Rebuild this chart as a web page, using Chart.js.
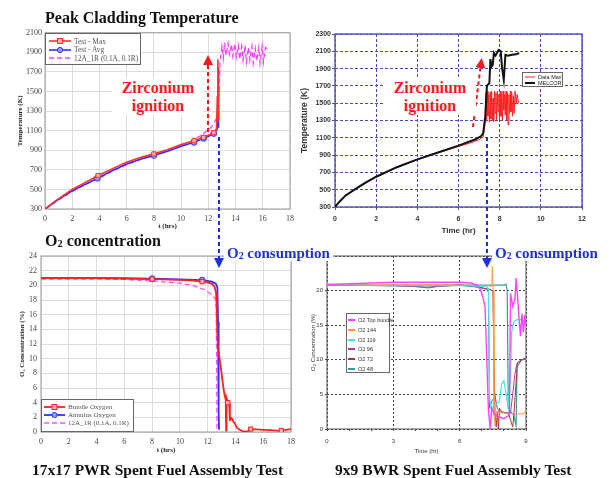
<!DOCTYPE html>
<html>
<head>
<meta charset="utf-8">
<script src="https://cdn.jsdelivr.net/npm/chart.js@4.4.0/dist/chart.umd.min.js"></script>
<style>
body{margin:0;background:#fff;}
#wrap{position:relative;width:612px;height:478px;overflow:hidden;font-family:"Liberation Serif",serif;background:#fff;}
canvas{position:absolute;}
.t{position:absolute;white-space:nowrap;font-weight:bold;line-height:1;}
.t sub{font-size:65%;vertical-align:baseline;position:relative;top:1px;}
.red{color:#f21c1c;font-size:16px;background:#fff;text-align:center;line-height:18px;}
.blue{color:#1f2fe6;font-size:15px;background:#fff;padding:0 3px;}
.cap{font-size:15.5px;color:#111;}
.lg{position:absolute;background:#fff;border:1px solid #666;box-sizing:border-box;}
.lg .row{position:absolute;left:0;display:flex;align-items:center;white-space:nowrap;}
svg.ov{position:absolute;left:0;top:0;pointer-events:none;}
</style>
</head>
<body>
<div id="wrap">
  <canvas id="c1" width="300" height="210" style="left:0;top:25px"></canvas>
  <canvas id="c2" width="312" height="225" style="left:300px;top:20px"></canvas>
  <canvas id="c3" width="300" height="215" style="left:0;top:245px"></canvas>
  <canvas id="c4" width="312" height="215" style="left:300px;top:245px"></canvas>

  <svg class="ov" width="612" height="478">
    <defs>
      <marker id="ar" viewBox="0 0 10 10" refX="5" refY="5" markerWidth="5" markerHeight="5" orient="auto-start-reverse">
        <path d="M0,0 L10,5 L0,10 z" fill="#f21c1c"/>
      </marker>
      <marker id="ab" viewBox="0 0 10 10" refX="5" refY="5" markerWidth="5" markerHeight="5" orient="auto-start-reverse">
        <path d="M0,0 L10,5 L0,10 z" fill="#1f2fe6"/>
      </marker>
    </defs>
    <line x1="208" y1="132" x2="208" y2="60" stroke="#f21c1c" stroke-width="2" stroke-dasharray="4,3" marker-end="url(#ar)"/>
    <line x1="473" y1="127" x2="481" y2="63" stroke="#f21c1c" stroke-width="2" stroke-dasharray="4,3" marker-end="url(#ar)"/>
    <line x1="219" y1="137" x2="219" y2="263" stroke="#1f2fe6" stroke-width="2" stroke-dasharray="4,3" marker-end="url(#ab)"/>
    <line x1="487" y1="137" x2="487" y2="263" stroke="#1f2fe6" stroke-width="2" stroke-dasharray="4,3" marker-end="url(#ab)"/>
  </svg>

  <div class="t" style="left:45px;top:10px;font-size:16px;color:#111;">Peak Cladding Temperature</div>
  <div class="t" style="left:45px;top:233px;font-size:16px;color:#111;">O<sub>2</sub> concentration</div>
  <div class="t red" style="left:112px;top:79px;width:92px;">Zirconium<br>ignition</div>
  <div class="t red" style="left:384px;top:79px;width:92px;">Zirconium<br>ignition</div>
  <div class="t blue" style="left:224px;top:246px;">O<sub>2</sub> consumption</div>
  <div class="t blue" style="left:492px;top:246px;">O<sub>2</sub> consumption</div>
  <div class="t cap" style="left:32px;top:462px;">17x17 PWR Spent Fuel Assembly Test</div>
  <div class="t cap" style="left:335px;top:462px;">9x9 BWR Spent Fuel Assembly Test</div>
</div>

<script>
// ---- PWR peak cladding temperature (K) vs t (hrs)
var pwrMaxT = [0, 0.5, 1, 2, 3, 3.9, 5, 6, 7, 8, 9, 10, 10.95, 11.65, 12.1, 12.4, 12.6, 12.66, 12.7, 12.72, 12.74, 12.76];
var pwrMaxK = [300, 355, 405, 500, 575, 642, 715, 778, 825, 863, 905, 960, 998, 1032, 1058, 1080, 1120, 1450, 1830, 1420, 1750, 1200];
var pwrAvgT = [0, 0.5, 1, 2, 3, 3.85, 5, 6, 7, 8, 9, 10, 10.95, 11.65, 12.1, 12.4, 12.62, 12.7, 12.72, 12.74, 12.76];
var pwrAvgK = [300, 350, 398, 485, 555, 615, 695, 760, 808, 848, 890, 940, 982, 1022, 1048, 1072, 1110, 1140, 1560, 1130, 1400];
var pwrCalcT = [0, 1, 2, 3, 4, 5, 6, 7, 8, 9, 10, 10.9, 11.5, 12, 12.4, 12.7, 12.86,
  12.9, 13.0, 13.1, 13.2, 13.3, 13.45, 13.55, 13.7, 13.8, 13.95, 14.05, 14.2, 14.3, 14.45, 14.55, 14.7, 14.8,
  14.95, 15.05, 15.2, 15.3, 15.45, 15.55, 15.7, 15.8, 15.95, 16.05, 16.2, 16.3];
var pwrCalcK = [300, 395, 478, 552, 615, 690, 752, 805, 845, 890, 945, 1005, 1056, 1107, 1168, 1260, 1800,
  1850, 1960, 1840, 2000, 1870, 1990, 1880, 1980, 1860, 1990, 1850, 1970, 1830, 1960, 1820, 1970, 1800,
  1950, 1820, 1960, 1790, 1940, 1810, 1950, 1790, 1960, 1800, 1950, 1940];
var pwrMaxMarks = [3.9, 8, 10.95, 11.65, 12.4];
var pwrAvgMarks = [3.85, 8, 10.95, 11.65, 12.4];

// ---- BWR peak temperature (K) vs Time (hr)
var bwrDataT = [0, 0.5, 1, 2, 3, 4, 5, 6, 6.5, 7, 7.2, 7.25,
  7.30, 7.33, 7.36, 7.40, 7.43, 7.47, 7.50, 7.54, 7.57, 7.61, 7.64, 7.68, 7.71, 7.75, 7.78, 7.82, 7.85, 7.89,
  7.92, 7.96, 7.99, 8.03, 8.06, 8.10, 8.13, 8.17, 8.20, 8.24, 8.27, 8.31, 8.34, 8.38, 8.41, 8.45, 8.48, 8.52,
  8.55, 8.59, 8.62, 8.66, 8.70, 8.75, 8.80, 8.85, 8.92];
var bwrDataK = [300, 425, 505, 645, 755, 845, 925, 1000, 1035, 1080, 1110, 1200,
  1280, 1620, 1300, 1640, 1350, 1600, 1280, 1630, 1320, 1640, 1300, 1560, 1290, 1640, 1380, 1620, 1310, 1640,
  1400, 1600, 1320, 1640, 1350, 1610, 1300, 1640, 1420, 1600, 1360, 1640, 1310, 1620, 1250, 1600, 1380, 1640,
  1400, 1620, 1350, 1580, 1380, 1640, 1500, 1600, 1500];
var bwrMelcorT = [0, 0.25, 0.5, 1, 1.5, 2, 3, 4, 5, 6, 6.8, 7.1, 7.2, 7.3, 7.38, 7.45, 7.5, 7.55, 7.6, 7.66,
  7.72, 7.8, 7.95, 8.05, 8.12, 8.2, 8.28, 8.4, 8.6, 8.8, 8.95];
var bwrMelcorK = [300, 370, 430, 510, 585, 650, 760, 850, 930, 1010, 1080, 1120, 1150, 1350, 1700, 1720, 1730, 2010, 1920, 1940,
  2080, 2050, 2115, 2100, 1900, 1770, 2060, 2050, 2060, 2065, 2080];

// ---- PWR O2 concentration (%) vs t (hrs)
var bundleT = [0, 2, 4, 6, 8, 10, 11, 11.6, 12, 12.3, 12.5, 12.6, 12.65, 12.7, 12.75, 12.8, 12.9, 13, 13.1, 13.2, 13.3,
  13.33, 13.36, 13.45, 13.55, 13.6, 13.65, 13.75, 13.85, 13.95, 14.1, 14.3, 14.6, 14.9, 15.1, 15.5, 16, 16.5, 17, 17.3, 17.6, 18];
var bundleO2 = [21, 21, 21, 20.95, 20.85, 20.75, 20.65, 20.5, 20.4, 20.2, 19.8, 19, 17, 13, 11, 10.8, 9.5, 8, 6.5, 5.2, 4.4,
  0.2, 4.6, 4.0, 3.9, 1.5, 2.0, 1.8, 1.4, 1.2, 0.6, 0.3, 0.05, 0.1, 0.4, 0.35, 0.3, 0.25, 0.2, 0.2, 0.3, 0.4];
var annulusT = [0, 4, 8, 10, 11.6, 12.3, 12.6, 12.7, 12.75, 12.78, 12.8, 12.82];
var annulusO2 = [21, 21, 20.9, 20.8, 20.7, 20.5, 20.2, 19.7, 15, 8, 3, 0.3];
var calcO2T = [0, 4, 6, 8, 10, 11, 11.8, 12.3, 12.6, 12.65, 12.67];
var calcO2 = [20.85, 20.85, 20.8, 20.6, 20.3, 19.95, 19.4, 18.7, 18, 10, 0];
var bundleMarks = [8, 11.6, 13.45, 15.1, 17.3];
var annulusMarks = [8, 11.6];

// ---- BWR O2 concentration (%) vs Time (hr)
var topT = [0, 1, 2, 3, 4, 5, 6, 6.5, 6.8, 6.95, 7.05, 7.15, 7.3, 7.38, 7.45, 7.6, 8.0, 8.25, 8.3, 8.4, 8.5, 8.55, 8.62, 8.68, 8.75, 8.82, 8.88, 8.95, 9];
var topO2 = [20.9, 21, 21.1, 21.2, 21.2, 21.2, 21.2, 21.1, 20.8, 20.1, 19, 17.7, 2.8, 0, 3, 2, 1.5, 2, 19.6, 17.7, 18.7, 21.8, 19, 16.2, 13.4, 16.7, 14, 16.5, 15];
var o144T = [0, 3, 6, 7.3, 7.45, 7.48, 7.52, 7.55, 7.6, 7.7, 8, 8.5, 8.9, 9];
var o144 = [20.8, 20.8, 20.8, 20.7, 20.6, 23.5, 20, 2, 0.5, 2.5, 2.3, 2.2, 2.2, 2.8];
var o119T = [0, 3, 6, 7.2, 7.3, 7.35, 7.4, 7.6, 7.8, 7.9, 8.0, 8.1, 8.2, 8.3, 8.35, 8.45, 8.6, 8.8, 9];
var o119 = [20.9, 20.7, 20.7, 20.6, 20.3, 5, 3, 3.5, 4, 6.5, 7, 5, 3, 8, 14, 15.5, 15.8, 15.8, 15.6];
var o96T = [0, 3, 4.5, 5, 6, 6.8, 7.2, 7.3, 7.35, 7.45, 7.6, 7.7, 7.8, 8.1, 8.3, 8.4, 8.5, 8.6, 8.8, 9];
var o96 = [20.8, 20.7, 20.5, 20.6, 20.8, 20.5, 20.2, 19.8, 3, 4, 4.8, 3, 2.5, 2.3, 2.4, 5, 8, 9.5, 10, 10.3];
var o72T = [0, 3, 6, 6.9, 7.3, 7.5, 7.6, 7.65, 7.7, 7.75, 7.8, 7.9, 8.0, 8.2, 8.4, 8.45, 8.6, 8.8, 9];
var o72 = [20.8, 20.8, 20.8, 20.5, 20.2, 20, 2, 0.3, 2.6, 0, 3, 2.5, 2.4, 2.3, 0.3, 2, 9, 10, 10.2];
var o48T = [0, 3, 4, 4.6, 5, 6, 7, 8.0, 8.1, 8.15, 8.2, 8.3, 8.45, 8.55, 8.6, 8.8, 9];
var o48 = [20.8, 20.7, 20.6, 20.4, 20.6, 20.8, 20.8, 20.8, 20.9, 20, 3, 2.5, 2, 0.5, 9.5, 10, 10.1];

function pts(xs, ys) {
  return xs.map(function (x, i) { return {x: x, y: ys[i]}; });
}
function marks(list, r) {
  return function (ctx) {
    return ctx.raw && list.indexOf(ctx.raw.x) >= 0 ? r : 0;
  };
}
function fixW(w) { return function (s) { s.width = w; }; }
function fixH(h) { return function (s) { s.height = h; }; }
function plain(v) { return String(v); }

// plot frame around the chart area
var framePlugin = {
  id: 'frame',
  beforeDatasetsDraw: function (chart, args, opts) {
    var a = chart.chartArea, ctx = chart.ctx;
    ctx.save();
    ctx.strokeStyle = opts.color;
    ctx.lineWidth = opts.width;
    ctx.strokeRect(a.left, a.top, a.right - a.left, a.bottom - a.top);
    ctx.restore();
  }
};
Chart.register(framePlugin);
Chart.defaults.animation = false;
Chart.defaults.responsive = false;
Chart.defaults.devicePixelRatio = 1;
Chart.defaults.plugins.legend.display = false;
Chart.defaults.plugins.tooltip.enabled = false;
Chart.defaults.elements.line.tension = 0;
Chart.defaults.elements.point.radius = 0;

var serif = 'Liberation Serif';
var sans = 'Liberation Sans';

// ---------- chart 1
var c1 = new Chart(document.getElementById('c1'), {
  type: 'line',
  data: {
    datasets: [
      { label: 'Test - Max', data: pts(pwrMaxT, pwrMaxK), borderColor: '#ff3030', borderWidth: 1.6,
        pointStyle: 'rect', pointRadius: marks(pwrMaxMarks, 3), pointBorderColor: '#ff3030', pointBackgroundColor: '#ffb0b0', pointBorderWidth: 1 },
      { label: 'Test - Avg', data: pts(pwrAvgT, pwrAvgK), borderColor: '#3030ff', borderWidth: 1.6,
        pointStyle: 'circle', pointRadius: marks(pwrAvgMarks, 3), pointBorderColor: '#3030ff', pointBackgroundColor: '#9a9aff', pointBorderWidth: 1 },
      { label: '12A_1R (0.1A, 0.1R)', data: pts(pwrCalcT, pwrCalcK), borderColor: '#ff40ff', borderWidth: 1.3, borderDash: [5, 3] }
    ]
  },
  options: {
    layout: { padding: { top: 7, right: 10, left: 0, bottom: 0 } },
    plugins: { frame: { color: '#9a9a9a', width: 1 } },
    scales: {
      x: { type: 'linear', min: 0, max: 18, afterFit: fixH(26),
        ticks: { stepSize: 2, padding: 5, color: '#444', font: { family: serif, size: 8 }, callback: plain },
        grid: { color: '#dcdcdc', drawTicks: false }, border: { display: false },
        title: { display: true, text: 't (hrs)', color: '#222', font: { family: serif, size: 7, weight: 'bold' }, padding: { top: 0, bottom: 5 } } },
      y: { min: 300, max: 2100, afterFit: fixW(45),
        ticks: { stepSize: 200, padding: 3, color: '#444', font: { family: serif, size: 8 }, callback: plain },
        grid: { color: '#dcdcdc', drawTicks: false }, border: { display: false },
        title: { display: true, text: 'Temperature (K)', color: '#222', font: { family: serif, size: 7, weight: 'bold' }, padding: { top: 16, bottom: 0 } } }
    }
  }
});

// ---------- chart 2
var c2 = new Chart(document.getElementById('c2'), {
  type: 'line',
  data: {
    datasets: [
      { label: 'MELCOR', data: pts(bwrMelcorT, bwrMelcorK), borderColor: '#111', borderWidth: 2 },
      { label: 'Data Max', data: pts(bwrDataT, bwrDataK), borderColor: '#ff2020', borderWidth: 1 }
    ]
  },
  options: {
    layout: { padding: { top: 14, right: 30, left: 0, bottom: 0 } },
    plugins: { frame: { color: '#5a5ac0', width: 1.5 } },
    scales: {
      x: { type: 'linear', min: 0, max: 12, afterFit: fixH(38),
        ticks: { stepSize: 2, padding: 5, color: '#333', font: { family: sans, size: 7, weight: 'bold' }, callback: plain },
        grid: { color: '#4a4ac0', tickLength: 3 }, border: { display: false, dash: [3, 2] },
        title: { display: true, text: 'Time (hr)', color: '#333', font: { family: sans, size: 8, weight: 'bold' }, padding: { top: 0, bottom: 9 } } },
      y: { min: 300, max: 2300, afterFit: fixW(35),
        ticks: { stepSize: 200, padding: 1, color: '#333', font: { family: sans, size: 7, weight: 'bold' }, callback: plain },
        grid: { color: '#4a4ac0', tickLength: 3 }, border: { display: false, dash: [3, 2] },
        title: { display: true, text: 'Temperature (K)', color: '#333', font: { family: sans, size: 8.5, weight: 'bold' }, padding: { top: 0, bottom: 0 } } }
    }
  }
});

// ---------- chart 3
var c3 = new Chart(document.getElementById('c3'), {
  type: 'line',
  data: {
    datasets: [
      { label: 'Bundle Oxygen', data: pts(bundleT, bundleO2), borderColor: '#ff2020', borderWidth: 1.8,
        pointStyle: 'rect', pointRadius: marks(bundleMarks, 3), pointBorderColor: '#ff2020', pointBackgroundColor: '#ffb0b0', pointBorderWidth: 1 },
      { label: 'Annulus Oxygen', data: pts(annulusT, annulusO2), borderColor: '#3030ff', borderWidth: 1.8,
        pointStyle: 'circle', pointRadius: marks(annulusMarks, 3), pointBorderColor: '#3030ff', pointBackgroundColor: '#9a9aff', pointBorderWidth: 1 },
      { label: '12A_1R (0.1A, 0.1R)', data: pts(calcO2T, calcO2), borderColor: '#ff50ff', borderWidth: 1.3, borderDash: [5, 3] }
    ]
  },
  options: {
    layout: { padding: { top: 11, right: 7, left: 0, bottom: 0 } },
    plugins: { frame: { color: '#999', width: 1 } },
    scales: {
      x: { type: 'linear', min: 0, max: 18, afterFit: fixH(28),
        ticks: { stepSize: 2, padding: 5, color: '#444', font: { family: serif, size: 8 }, callback: plain },
        grid: { color: '#dcdcdc', drawTicks: false }, border: { display: false },
        title: { display: true, text: 't (hrs)', color: '#222', font: { family: serif, size: 7, weight: 'bold' }, padding: { top: 0, bottom: 6 } } },
      y: { min: 0, max: 24, afterFit: fixW(41),
        ticks: { stepSize: 2, padding: 4, color: '#444', font: { family: serif, size: 8 }, callback: plain },
        grid: { color: '#dcdcdc', drawTicks: false }, border: { display: false },
        title: { display: true, text: 'O₂ Concentration (%)', color: '#222', font: { family: serif, size: 7, weight: 'bold' }, padding: { top: 18, bottom: 0 } } }
    }
  }
});

// ---------- chart 4
var c4 = new Chart(document.getElementById('c4'), {
  type: 'line',
  data: {
    datasets: [
      { label: 'O2 Top bundle', data: pts(topT, topO2), borderColor: '#ff44ff', borderWidth: 1.4 },
      { label: 'O2 144', data: pts(o144T, o144), borderColor: '#ff9a3c', borderWidth: 1 },
      { label: 'O2 119', data: pts(o119T, o119), borderColor: '#40e4ee', borderWidth: 1.2 },
      { label: 'O2 96', data: pts(o96T, o96), borderColor: '#a040a0', borderWidth: 1 },
      { label: 'O2 72', data: pts(o72T, o72), borderColor: '#b03030', borderWidth: 1 },
      { label: 'O2 48', data: pts(o48T, o48), borderColor: '#3a9a9a', borderWidth: 1.2 }
    ]
  },
  options: {
    layout: { padding: { top: 11, right: 86, left: 0, bottom: 0 } },
    plugins: { frame: { color: '#555', width: 1 } },
    scales: {
      x: { type: 'linear', min: 0, max: 9, afterFit: fixH(31),
        ticks: { stepSize: 1, padding: 7, color: '#333', font: { family: sans, size: 6 },
          callback: function (v) { return v % 3 === 0 ? String(v) : ''; } },
        grid: { color: function (c) { return c.tick && c.tick.value % 3 === 0 ? '#444' : 'rgba(0,0,0,0)'; }, tickColor: '#555', tickLength: 2 },
        border: { display: false, dash: [2, 2] },
        title: { display: true, text: 'Time (hr)', color: '#333', font: { family: sans, size: 6 }, padding: { top: 0, bottom: 5 } } },
      y: { min: 0, max: 25, afterFit: fixW(27),
        ticks: { stepSize: 5, padding: 2, color: '#333', font: { family: sans, size: 6 },
          callback: function (v) { return v < 25 ? String(v) : ''; } },
        grid: { color: '#444', tickLength: 2 }, border: { display: false, dash: [2, 2] },
        title: { display: true, text: 'O₂ Concentration (%)', color: '#333', font: { family: sans, size: 6 }, padding: { top: 10, bottom: 0 } } }
    }
  }
});

// ---------- legends (boxes drawn over the plot areas)
function legend(chart, box, order) {
  var div = document.createElement('div');
  div.className = 'lg';
  div.style.left = box.x + 'px'; div.style.top = box.y + 'px';
  div.style.width = box.w + 'px'; div.style.height = box.h + 'px';
  div.style.font = box.font; div.style.color = box.color;
  order.forEach(function (di, i) {
    var ds = chart.data.datasets[di];
    var row = document.createElement('div');
    row.className = 'row';
    row.style.top = (box.row0 + i * box.gap - box.y - 5) + 'px';
    row.style.height = '10px';
    row.style.left = box.pad + 'px';
    var sw = box.sw, svg = '<svg width="' + (sw + 3) + '" height="10" style="flex:none">';
    svg += '<line x1="0" y1="5" x2="' + sw + '" y2="5" stroke="' + ds.borderColor + '" stroke-width="' + (box.lw || ds.borderWidth) + '"' +
      (ds.borderDash ? ' stroke-dasharray="' + ds.borderDash.join(',') + '"' : '') + '/>';
    if (ds.pointStyle === 'rect') svg += '<rect x="' + (sw / 2 - 2.5) + '" y="2.5" width="5" height="5" fill="' + ds.pointBackgroundColor + '" stroke="' + ds.borderColor + '"/>';
    if (ds.pointStyle === 'circle') svg += '<circle cx="' + (sw / 2) + '" cy="5" r="2.6" fill="' + ds.pointBackgroundColor + '" stroke="' + ds.borderColor + '"/>';
    svg += '</svg>';
    row.innerHTML = svg + '<span>' + ds.label + '</span>';
    div.appendChild(row);
  });
  document.getElementById('wrap').appendChild(div);
}
legend(c1, { x: 45, y: 33, w: 96, h: 32, row0: 40, gap: 8.5, pad: 3, sw: 22, font: '7.4px "Liberation Serif"', color: '#555' }, [0, 1, 2]);
legend(c2, { x: 522, y: 72, w: 41, h: 15, row0: 76, gap: 6, pad: 2, sw: 10, font: '5.5px "Liberation Sans"', color: '#222' }, [1, 0]);
legend(c3, { x: 41, y: 399, w: 93, h: 33, row0: 406, gap: 8, pad: 2, sw: 21, font: '7px "Liberation Serif"', color: '#555' }, [0, 1, 2]);
legend(c4, { x: 346, y: 313, w: 44, h: 60, row0: 319, gap: 9.8, pad: 1, sw: 7, lw: 2, font: '5.5px "Liberation Sans"', color: '#333' }, [0, 1, 2, 3, 4, 5]);
</script>
</body>
</html>
